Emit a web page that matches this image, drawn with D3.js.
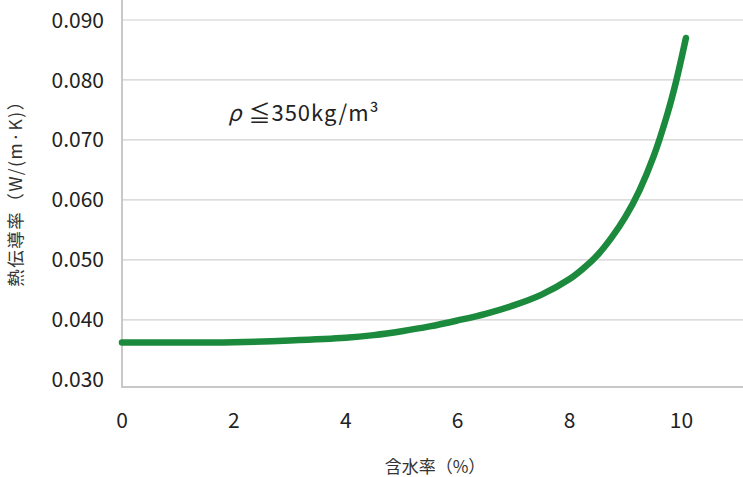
<!DOCTYPE html>
<html><head><meta charset="utf-8">
<script src="https://cdn.jsdelivr.net/npm/d3@7"></script>
<style>body{margin:0;background:#fff}text{font-family:"Noto Sans CJK JP","Noto Sans",sans-serif}</style>
</head><body><svg id="c" width="743" height="477"></svg>
<script>
const moisture = [0, 1, 2, 3, 4, 4.5, 5, 5.5, 6, 6.5, 7, 7.5, 8, 8.25, 8.5, 8.75, 9, 9.25, 9.5, 9.75, 9.9, 10.08];
const conductivity = [0.03622, 0.03620, 0.03628, 0.03655, 0.03700, 0.03745, 0.0381, 0.0389, 0.0399, 0.0410, 0.0424, 0.0442, 0.0468, 0.0486, 0.0508, 0.0537, 0.0572, 0.0616, 0.0672, 0.0744, 0.0796, 0.0870];
const xTicks = [0, 2, 4, 6, 8, 10];
const yTicks = [0.030, 0.040, 0.050, 0.060, 0.070, 0.080, 0.090];
const xTitle = "含水率（%）";
const yTitle = "熱伝導率（W/(m·K)）";
const note = "ρ ≦350kg/m³";

const svg = d3.select("#c");
const x = d3.scaleLinear().domain([0, 11.1]).range([122, 743]);
const y = d3.scaleLinear().domain([0.0288, 0.090]).range([387, 20]);

// gridlines
svg.append("g").selectAll("line").data(yTicks.filter(v => v > 0.030)).join("line")
  .attr("x1", x(0)).attr("x2", x(11.1)).attr("y1", d => y(d)).attr("y2", d => y(d))
  .attr("stroke", "#d0d0d0").attr("stroke-width", 1.2);

// axes lines
svg.append("line").attr("x1", x(0)).attr("x2", x(0)).attr("y1", y(0.090)-20).attr("y2", y(0.0288))
  .attr("stroke", "#c8c8c8").attr("stroke-width", 2);
svg.append("line").attr("x1", x(0)-1).attr("x2", x(11.1)).attr("y1", y(0.0288)).attr("y2", y(0.0288))
  .attr("stroke", "#c8c8c8").attr("stroke-width", 2);

// y tick labels
svg.append("g").selectAll("text").data(yTicks).join("text")
  .attr("x", 104).attr("y", d => y(d)).attr("dy", "0.36em").attr("text-anchor", "end")
  .attr("font-size", 21).attr("fill", "#222").text(d => d3.format(".3f")(d));

// x tick labels
svg.append("g").selectAll("text").data(xTicks).join("text")
  .attr("x", d => x(d)).attr("y", 420).attr("dy", "0.36em").attr("text-anchor", "middle")
  .attr("font-size", 21).attr("fill", "#222").text(d => d);

// titles
svg.append("text").attr("x", 435).attr("y", 467).attr("dy", "0.36em").attr("text-anchor", "middle")
  .attr("font-size", 17).attr("fill", "#333").text(xTitle);
svg.append("text").attr("transform", "translate(16,189) rotate(-90)").attr("dy", "0.36em").attr("text-anchor", "middle")
  .attr("font-size", 17.5).attr("letter-spacing", 1.5).attr("fill", "#333").text(yTitle);

// annotation
const ann = svg.append("text").attr("x", 228).attr("y", 113).attr("dy", "0.36em")
  .attr("font-size", 22).attr("letter-spacing", 1).attr("fill", "#222");
ann.append("tspan").attr("font-style", "italic").text(note.slice(0, 1));
ann.append("tspan").text(note.slice(1));

// curve
const line = d3.line().x((d, i) => x(moisture[i])).y(d => y(d)).curve(d3.curveCatmullRom.alpha(0.5));
svg.append("path").attr("d", line(conductivity)).attr("fill", "none")
  .attr("stroke", "#1b8a3c").attr("stroke-width", 6.5).attr("stroke-linecap", "round").attr("stroke-linejoin", "round");
</script></body></html>
